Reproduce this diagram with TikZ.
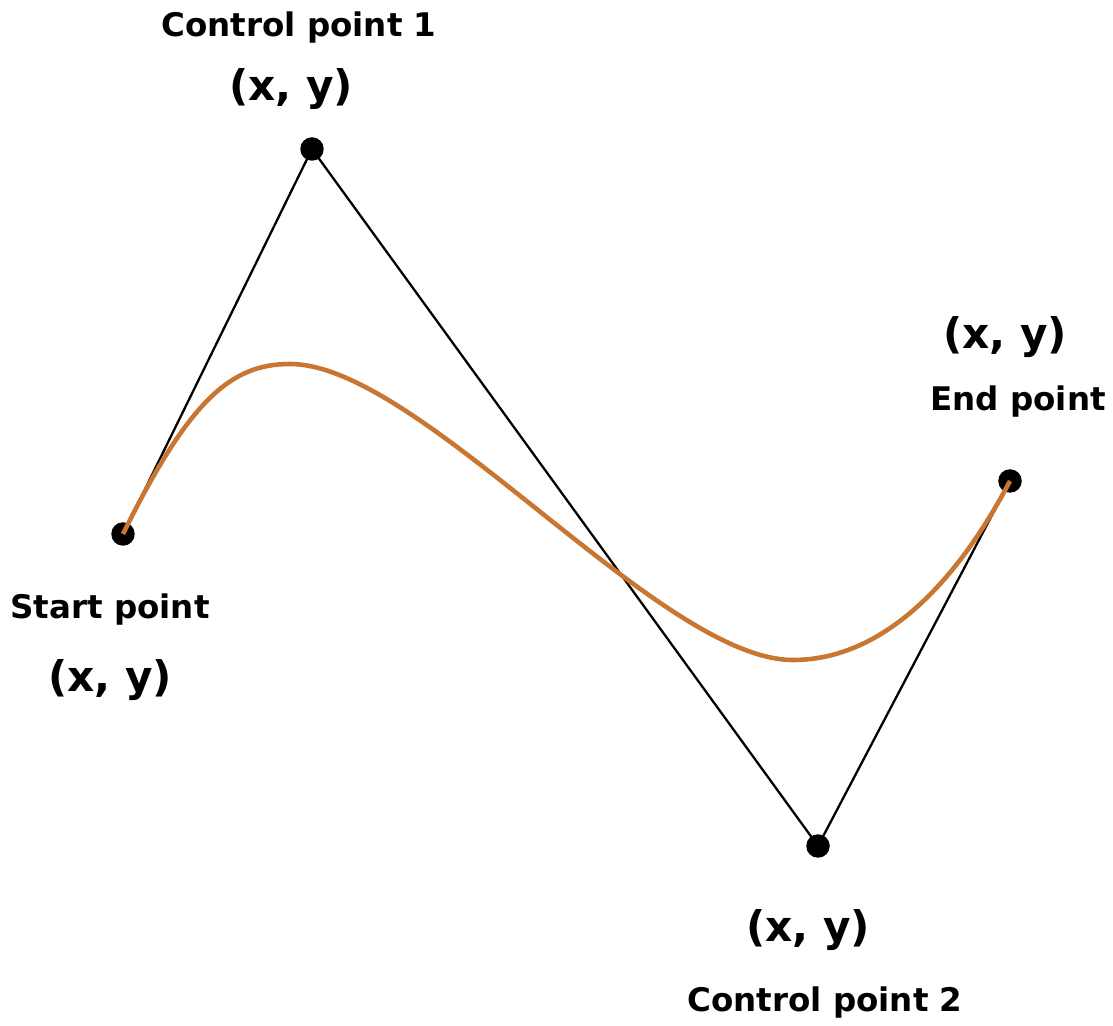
\documentclass[tikz,border=0pt]{standalone}
\usepackage{fontspec}
\setmainfont{DejaVu Sans}
\definecolor{curvecol}{RGB}{200,118,50}
\begin{document}
\begin{tikzpicture}[x=0.02cm,y=-0.02cm,
  dot/.style={circle,fill=black,inner sep=0pt,minimum size=0.47cm},
  lbl/.style={font=\fontsize{18.5}{22}\selectfont\bfseries,inner sep=0pt},
  xy/.style={font=\fontsize{24}{28}\selectfont\bfseries,inner sep=0pt},
  hull/.style={line width=1.3pt,black},
  curve/.style={line width=2.6pt,curvecol}]
\useasboundingbox[fill=white] (0,0) rectangle (1113,1026);
\node[dot] (s) at (123,534) {};
\node[dot] (c1) at (312,149) {};
\node[dot] (c2) at (818,846) {};
\node[dot] (e) at (1010,481) {};
\draw[hull] (s.center) -- (c1.center) -- (c2.center) -- (e.center);
\draw[curve] (s.center) .. controls (190,398) and (232,364) .. (290,364)
  .. controls (420,364) and (660,660) .. (793,660)
  .. controls (875,660) and (950,595) .. (e.center);
\node[lbl] (l1) at (299,28) {Control point 1};
\node[xy] (x1) at (291,89) {(x, y)};
\node[lbl] (ls) at (110,610) {Start point};
\node[xy] (xs) at (110,680) {(x, y)};
\node[xy] (xe) at (1005,337) {(x, y)};
\node[lbl] (le) at (1018,402) {End point};
\node[xy] (x2) at (808,930) {(x, y)};
\node[lbl] (l2) at (825,1003) {Control point 2};
\end{tikzpicture}
\end{document}
